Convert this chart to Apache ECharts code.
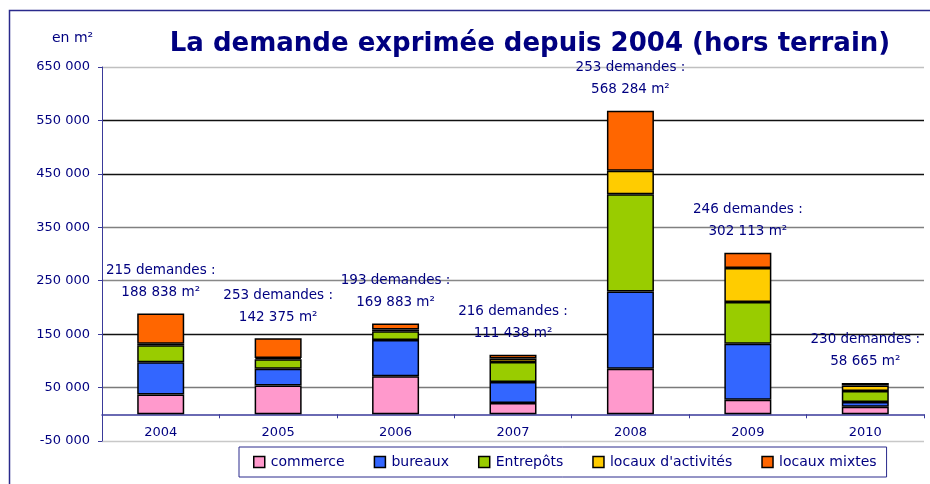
<!DOCTYPE html>
<html>
<head>
<meta charset="utf-8">
<script src="https://cdn.jsdelivr.net/npm/echarts@6/dist/echarts.min.js"></script>
<style>
  html, body { margin: 0; padding: 0; background: #fff; }
  #chart { width: 930px; height: 484px; }
</style>
</head>
<body>
<div id="chart"></div>
<script>
const years = ['2004', '2005', '2006', '2007', '2008', '2009', '2010'];
const commerce = [37000, 54000, 71000, 21000, 85000, 27000, 14000];
const bureaux = [60500, 31000, 68000, 39500, 145000, 105000, 9000];
const entrepots = [31500, 18000, 16500, 37500, 182000, 78000, 20500];
const activites = [3000, 2500, 3000, 6500, 44000, 64000, 10500];
const mixtes = [56838, 36875, 11383, 6938, 112284, 28113, 4665];
const demandes = [215, 253, 193, 216, 253, 246, 230];
const totals = [188838, 142375, 169883, 111438, 568284, 302113, 58665];

const navy = '#000080';
const axisBlue = '#3a3a9a';

function fmt(v) {
  return String(v).replace(/\B(?=(\d{3})+(?!\d))/g, ' ');
}

const chart = echarts.init(document.getElementById('chart'));

function barSeries(name, data, color) {
  return {
    name: name,
    type: 'bar',
    stack: 'total',
    barWidth: 47,
    data: data,
    itemStyle: { color: color, borderColor: '#000', borderWidth: 1.5 }
  };
}

const series = [
  barSeries('commerce', commerce, '#FF99CC'),
  barSeries('bureaux', bureaux, '#3366FF'),
  barSeries('Entrepôts', entrepots, '#99CC00'),
  barSeries("locaux d'activités", activites, '#FFCC00'),
  barSeries('locaux mixtes', mixtes, '#FF6600')
];
// total labels on top segment
series[4].label = {
  show: true,
  position: 'top',
  distance: 10,
  color: navy,
  fontFamily: 'DejaVu Sans',
  fontSize: 13.5,
  lineHeight: 22,
  formatter: function (p) {
    return demandes[p.dataIndex] + ' demandes :\n' + fmt(totals[p.dataIndex]) + ' m²';
  }
};

const option = {
  animation: false,
  backgroundColor: '#fff',
  textStyle: { fontFamily: 'DejaVu Sans' },
  title: {
    text: 'La demande exprimée depuis 2004 (hors terrain)',
    left: 525,
    textAlign: 'center',
    top: 26,
    textStyle: { color: navy, fontSize: 26, fontWeight: 'bold', fontFamily: 'DejaVu Sans' }
  },
  graphic: [
    {
      type: 'rect',
      shape: { x: 9.5, y: 10.5, width: 1000, height: 1000 },
      style: { fill: 'none', stroke: '#2a2a8c', lineWidth: 1.5 },
      silent: true
    },
    {
      type: 'text',
      left: 52,
      top: 31,
      style: { text: 'en m²', fill: navy, font: '14px DejaVu Sans' }
    }
  ],
  legend: {
    left: 239,
    top: 447,
    padding: [8, 10, 8, 14],
    itemWidth: 11,
    itemHeight: 11,
    itemGap: 29,
    borderColor: '#2a2a8c',
    borderWidth: 1,
    icon: 'rect',
    itemStyle: { borderColor: '#000', borderWidth: 1.5 },
    textStyle: { color: navy, fontSize: 14, fontFamily: 'DejaVu Sans', padding: [0, 0, 0, 1] },
    data: ['commerce', 'bureaux', 'Entrepôts', "locaux d'activités", 'locaux mixtes']
  },
  grid: { left: 102, right: 6, top: 67, bottom: 43, containLabel: false },
  xAxis: {
    type: 'category',
    data: years,
    // axis sits on the zero value, 50 000 above the grid bottom
    offset: -26.7,
    axisLine: { onZero: false, lineStyle: { color: axisBlue, width: 1.5 } },
    axisTick: { show: true, length: 4, lineStyle: { color: axisBlue } },
    axisLabel: { color: navy, fontSize: 13, margin: 12, fontFamily: 'DejaVu Sans' }
  },
  yAxis: {
    type: 'value',
    min: -50000,
    max: 650000,
    interval: 100000,
    axisLine: { show: true, lineStyle: { color: axisBlue, width: 1 } },
    axisTick: { show: true, length: 4, lineStyle: { color: axisBlue } },
    axisLabel: {
      color: navy, fontSize: 13, margin: 12, fontFamily: 'DejaVu Sans',
      formatter: function (v) { return fmt(v); }
    },
    splitLine: {
      show: true,
      lineStyle: {
        color: ['#c8c8c8', '#7a7a7a', '#111', '#888', '#808080', '#111', '#111', '#c0c0c0'],
        width: 1.3
      }
    }
  },
  series: series
};

chart.setOption(option);
</script>
</body>
</html>
